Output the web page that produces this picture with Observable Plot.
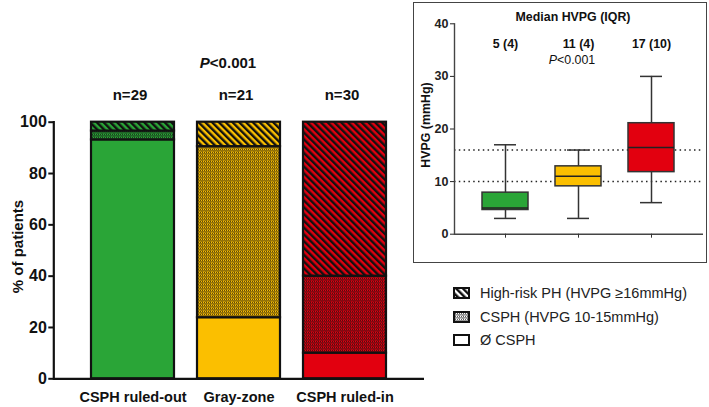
<!DOCTYPE html>
<html>
<head>
<meta charset="utf-8">
<script src="https://cdn.jsdelivr.net/npm/d3@7"></script>
<script src="https://cdn.jsdelivr.net/npm/@observablehq/plot@0.6"></script>
<style>
  html, body { margin: 0; padding: 0; background: #fff; }
  body { width: 709px; height: 407px; position: relative; overflow: hidden;
         font-family: Arial, "Liberation Sans", Helvetica, sans-serif; color: #111; }
  .abs { position: absolute; white-space: nowrap; }
  #inset-border { position: absolute; left: 413px; top: 2px; width: 294px; height: 261px;
                  box-sizing: border-box; border: 1.3px solid #444; }
  .leg { position: absolute; left: 453px; font-size: 14.5px; color: #222; display: flex; align-items: center; }
  .leg svg { margin-right: 10px; }
</style>
</head>
<body>
<svg width="0" height="0" style="position:absolute">
  <defs id="pattern-defs"></defs>
</svg>
<div id="main" class="abs" style="left:0;top:0"></div>
<div id="inset-border"></div>
<div id="inset" class="abs" style="left:413px;top:2px"></div>
<div class="abs" style="left:228px;top:62px;transform:translate(-50%,-50%);font-size:15px;font-weight:bold"><i>P</i>&lt;0.001</div>
<div class="abs" style="left:573px;top:17px;transform:translate(-50%,-50%);font-size:12.4px;font-weight:bold">Median HVPG (IQR)</div>
<div class="abs" style="left:572px;top:60px;transform:translate(-50%,-50%);font-size:12.4px"><i>P</i>&lt;0.001</div>
<div id="legend"></div>
<script>
// ---------- data ----------
const groups = ["CSPH ruled-out", "Gray-zone", "CSPH ruled-in"];
const nPatients = [29, 21, 30];
const countNoCSPH = [27, 5, 3];
const countCSPH = [1, 14, 9];
const countHighRisk = [1, 2, 18];
const levels = ["Ø CSPH", "CSPH (HVPG 10-15mmHg)", "High-risk PH (HVPG ≥16mmHg)"];
const groupColors = ["#2aa537", "#fbbf00", "#e2000f"];
const yTicks = [0, 20, 40, 60, 80, 100];

// inset box plot summary (HVPG, mmHg)
const whiskerLow = [3, 3, 6];
const q1 = [4.6, 9.1, 11.8];
const median = [5, 11, 16.5];
const q3 = [7.9, 12.9, 21.1];
const whiskerHigh = [17, 16, 30];
const medianLabels = ["5 (4)", "11 (4)", "17 (10)"];
const insetTicks = [0, 10, 20, 30, 40];
const thresholds = [10, 16];

// ---------- patterns ----------
const defs = document.getElementById("pattern-defs");
function addPatterns(key, color) {
  defs.insertAdjacentHTML("beforeend",
    `<pattern id="hr-${key}" patternUnits="userSpaceOnUse" width="4.8" height="4.8" patternTransform="rotate(-45)">
       <rect width="4.8" height="4.8" fill="${color}"/>
       <rect width="2.4" height="4.8" fill="#111"/>
     </pattern>
     <pattern id="cs-${key}" patternUnits="userSpaceOnUse" width="4" height="3">
       <rect width="4" height="3" fill="${color}"/>
       <path d="M0,1.5L1,0.5L2,1.5L3,0.5L4,1.5" fill="none" stroke="#111" stroke-width="1"/>
       <path d="M0,3L1,2.3M2,3L3,2.3" fill="none" stroke="#111" stroke-width="0.8"/>
     </pattern>`);
}
groupColors.forEach((c, i) => addPatterns(i, c));
addPatterns("w", "#fff");

// ---------- main stacked bars ----------
const counts = [countNoCSPH, countCSPH, countHighRisk];
const rows = [];
groups.forEach((g, i) => {
  levels.forEach((lv, j) => {
    rows.push({
      group: g,
      level: lv,
      pct: counts[j][i] / nPatients[i] * 100,
      fill: j === 0 ? groupColors[i] : j === 1 ? `url(#cs-${i})` : `url(#hr-${i})`
    });
  });
});
const nRows = groups.map((g, i) => ({group: g, label: "n=" + nPatients[i]}));

const font = 'Arial, "Liberation Sans", Helvetica, sans-serif';
const main = Plot.plot({
  width: 709, height: 407,
  marginLeft: 53.3, marginRight: 285, marginTop: 121.7, marginBottom: 28.7,
  style: {fontFamily: font, background: "transparent", color: "#111", overflow: "visible"},
  x: {domain: groups, paddingInner: 0.215, paddingOuter: 0.346, label: null},
  y: {domain: [0, 100], label: null},
  color: {type: "identity"},
  marks: [
    Plot.barY(rows, {x: "group", y: "pct", fill: "fill", stroke: "#111", strokeWidth: 2.2}),
    Plot.ruleY([0], {stroke: "#111", strokeWidth: 2.2}),
    Plot.frame({anchor: "left", stroke: "#111", strokeWidth: 2.2}),
    Plot.axisY({ticks: yTicks, tickSize: 5, tickPadding: 2, strokeWidth: 2, fontSize: 16, fontWeight: "bold", label: null}),
    Plot.axisX({tickSize: 0, tickPadding: 13, fontSize: 14.5, fontWeight: "bold", label: null}),
    Plot.text(nRows, {x: "group", text: "label", frameAnchor: "top", dy: -33, fontSize: 15, fontWeight: "bold", dx: -3}),
    Plot.text(["% of patients"], {frameAnchor: "left", textAnchor: "middle", dx: -36, dy: -4, rotate: -90, fontSize: 15, fontWeight: "bold"})
  ]
});
document.getElementById("main").appendChild(main);

// ---------- inset box plot ----------
const boxRows = groups.map((g, i) => ({
  group: g, lo: whiskerLow[i], q1: q1[i], med: median[i], q3: q3[i], hi: whiskerHigh[i],
  color: groupColors[i], label: medianLabels[i]
}));
const inset = Plot.plot({
  width: 294, height: 261,
  marginLeft: 41, marginRight: 4, marginTop: 21.3, marginBottom: 29.3,
  style: {fontFamily: font, background: "transparent", color: "#333", overflow: "visible"},
  x: {domain: groups, paddingInner: 0.365, paddingOuter: 0.378, label: null},
  y: {domain: [0, 40], label: null},
  color: {type: "identity"},
  marks: [
    Plot.ruleY(thresholds, {stroke: "#222", strokeWidth: 1.5, strokeDasharray: "1.5,3.3"}),
    Plot.ruleX(boxRows, {x: "group", y1: "lo", y2: "hi", stroke: "#333", strokeWidth: 1.5}),
    Plot.tickY(boxRows, {x: "group", y: "lo", insetLeft: 12, insetRight: 12, stroke: "#333", strokeWidth: 1.5}),
    Plot.tickY(boxRows, {x: "group", y: "hi", insetLeft: 12, insetRight: 12, stroke: "#333", strokeWidth: 1.5}),
    Plot.barY(boxRows, {x: "group", y1: "q1", y2: "q3", fill: "color", stroke: "#333", strokeWidth: 1.5}),
    Plot.tickY(boxRows, {x: "group", y: "med", stroke: "#222", strokeWidth: 1.5}),
    Plot.ruleY([0], {stroke: "#444", strokeWidth: 1.4}),
    Plot.frame({anchor: "left", stroke: "#444", strokeWidth: 1.4}),
    Plot.axisY({ticks: insetTicks, tickSize: 4, tickPadding: 2, fontSize: 12.5, fontWeight: "bold", color: "#222", label: null}),
    Plot.axisX({tickSize: 4, tickFormat: () => "", label: null}),
    Plot.text(boxRows, {x: "group", text: "label", frameAnchor: "top", dy: 15, fontSize: 12.4, fontWeight: "bold", fill: "#111"}),
    Plot.text(["HVPG (mmHg)"], {frameAnchor: "left", textAnchor: "middle", dx: -28, dy: -4, rotate: -90, fontSize: 12.4, fontWeight: "bold", fill: "#111"})
  ]
});
document.getElementById("inset").appendChild(inset);

// ---------- legend ----------
const legend = document.getElementById("legend");
const legendItems = [
  {label: levels[2], fill: "url(#hr-w)", top: 293},
  {label: levels[1], fill: "url(#cs-w)", top: 316.5},
  {label: levels[0], fill: "#fff", top: 340}
];
legendItems.forEach(it => {
  const div = document.createElement("div");
  div.className = "leg";
  div.style.top = (it.top - 9) + "px";
  div.innerHTML = `<svg width="17" height="12"><rect x="1" y="1" width="15" height="10" fill="${it.fill}" stroke="#111" stroke-width="2"/></svg><span>${it.label}</span>`;
  div.style.height = "18px";
  legend.appendChild(div);
});
</script>
</body>
</html>
